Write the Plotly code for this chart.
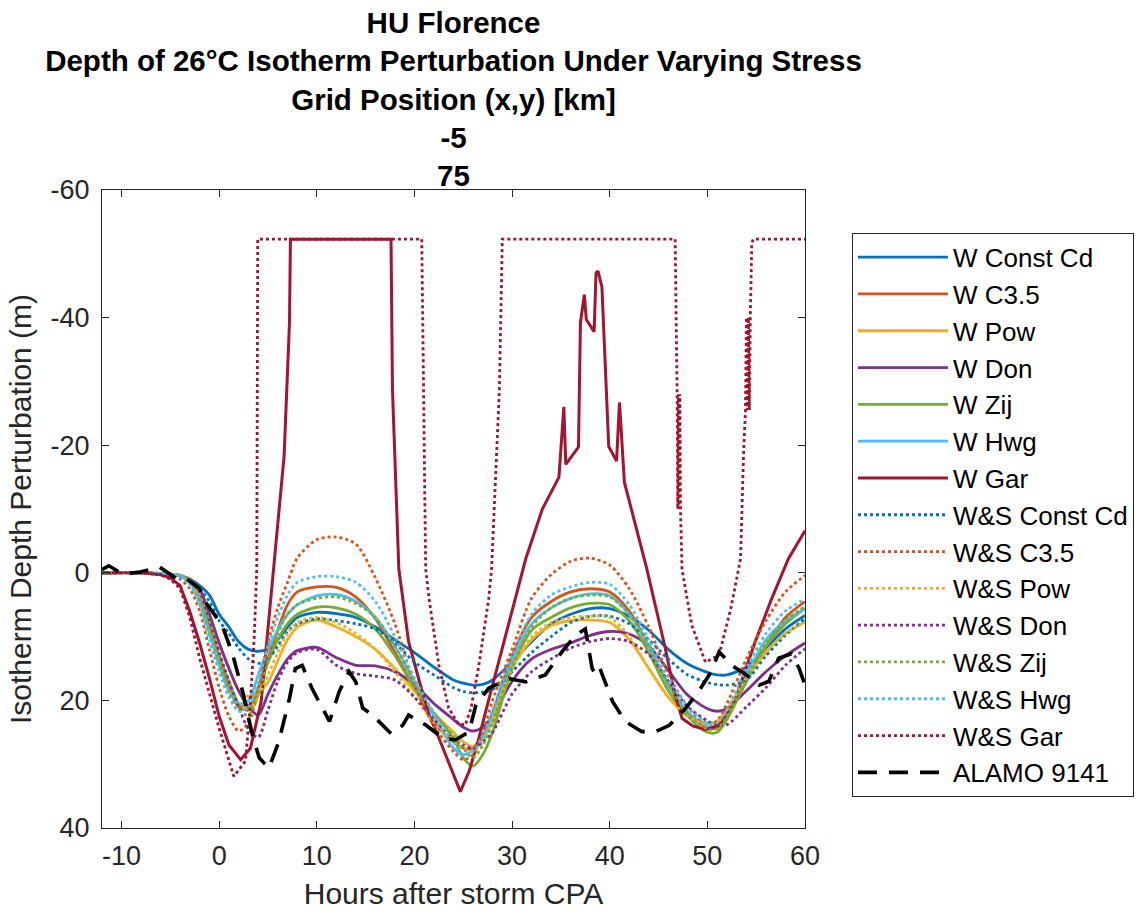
import plotly.graph_objects as go

# ---------------- data ----------------
HOURS = [-12, -8, -5, -4, -3, -2, -1, 0, 1, 2, 3, 4, 5, 6, 7, 8,
         10, 12, 14, 16, 18, 20, 22,
         24, 25, 26, 27, 28,
         30, 32, 34, 36, 38, 40, 42, 44, 46, 48, 50,
         51, 52, 54, 56, 58, 60]

W_CONST_CD = [0, 0, 0.2, 0.5, 1.0, 2.0, 3.5, 6.5, 8.5, 10.8, 12.0, 12.3, 12.0, 10.5, 8.5, 7.0,
              6.2, 6.4, 7.0, 8.5, 10.5, 12.5, 14.8,
              16.8, 17.3, 17.6, 17.5, 16.8,
              14.0, 10.8, 8.0, 6.5, 5.6, 5.6, 6.8, 9.0, 12.0, 14.3, 15.6,
              16.0, 16.0, 14.8, 11.8, 8.8, 6.7]
W_C35 = [0, 0, 0.2, 0.5, 1.5, 4, 8, 13, 18, 21, 21.5, 18, 13.5, 9, 5, 3,
         2.2, 2.3, 3.8, 7.2, 12.5, 18.0, 23.5,
         26.5, 27.5, 27.5, 25.5, 22,
         13.0, 7.0, 4.5, 3.0, 2.5, 3.0, 6.0, 11.5, 17.5, 22.0, 24.3,
         24.3, 22.5, 17.0, 11.5, 7.0, 4.5]
W_POW = [0, 0, 0.2, 0.4, 1.0, 3.0, 6.5, 11, 15, 18.5, 19.4, 18.8, 17.2, 13.8, 10.5, 8.5,
         7.4, 8.5, 10.0, 12.0, 15.0, 18.5, 22.0,
         25.0, 26.5, 27.2, 25.5, 23.5,
         15.0, 10.5, 8.3, 7.5, 7.4, 7.8, 10.5, 15.0, 19.5, 22.5, 23.5,
         23.3, 21.5, 16.5, 12.5, 9.5, 7.7]
W_DON = [0, 0, 0.2, 0.5, 1.0, 2.5, 6.5, 11, 15, 18.5, 21, 22.3, 19, 16, 13.5, 12.2,
         11.7, 13.3, 14.5, 14.6, 15.5, 17.5, 20.5,
         23.0, 24.2, 24.8, 24.2, 22.5,
         17, 13.5, 12, 11, 9.8, 9.2, 9.6, 11.5, 15.3, 19.2, 21.3,
         21.7, 21.3, 18.5, 15.5, 13, 11]
W_ZIJ = [0, 0, 0.2, 0.4, 1.2, 4, 8, 13, 17, 20.5, 21.2, 18, 14, 10.5, 8, 6.5,
         5.4, 5.5, 6.5, 8.8, 13, 18, 22,
         26, 29, 30.3, 28.5, 25,
         15, 9, 7, 5.5, 4.8, 5.0, 7.5, 12.5, 18.5, 22.5, 25,
         25, 23, 17, 11.5, 8, 5.6]
W_HWG = [0, 0, 0.2, 0.5, 1.5, 4.5, 9.5, 14.5, 18.5, 20.5, 20, 16, 12, 9, 6.5, 5,
         3.6, 3.4, 4.5, 7, 11.5, 17, 22.5,
         27.5, 28.5, 27.8, 26, 22.5,
         14.0, 8.0, 5.5, 4.0, 3.3, 3.6, 6.5, 11.5, 17.5, 21.8, 24,
         24, 22, 16, 10.5, 7.5, 5.6]

WS_CONST_CD = [0, 0, 0.2, 0.5, 1.2, 2.5, 4.5, 7.5, 9.5, 11.8, 13.5, 14.2, 13.5, 11.5, 9.2, 8.0,
               7.2, 7.5, 8.0, 8.8, 11.0, 14.0, 16.0,
               18.0, 18.6, 18.8, 18.7, 18.3,
               15.5, 12.5, 10.0, 7.8, 6.8, 6.8, 8.0, 10.5, 13.5, 16.0, 17.2,
               17.5, 17.6, 16.8, 13.0, 9.8, 7.2]
WS_C35 = [0, 0, 0.3, 1.0, 2.5, 6, 12, 18, 22.5, 24.8, 23.5, 18.5, 11, 5.5, 1.5, -2.3,
          -5.2, -5.6, -4.5, 0.8, 8, 17.5, 24.0,
          28.0, 29.3, 28.5, 25.0, 20,
          12.0, 4.0, 0.3, -1.8, -2.3, -1.2, 2.5, 8.5, 16.0, 21.0, 23.8,
          23.2, 20.5, 13.5, 7.5, 3.0, 0.4]
WS_POW = [0, 0, 0.2, 0.4, 1.2, 3.5, 7.5, 12.5, 17, 20.5, 21.5, 19.5, 16, 12.5, 9.5, 7.8,
          7.0, 7.8, 9.5, 12.0, 15.5, 19.5, 23.5,
          26.5, 27.5, 28, 26.5, 23,
          15, 10, 7.8, 7.0, 6.8, 7.0, 10.0, 15.0, 19.5, 22.5, 23.8,
          23.5, 21.5, 16.5, 12.5, 9.5, 7.7]
WS_DON = [0, 0, 0.2, 0.5, 1.2, 3, 7.5, 12.5, 17, 21, 24.5, 25.8, 21.5, 17, 14, 12.5,
          12, 14.5, 15.8, 16.2, 16.8, 19.5, 23,
          26, 27, 27.5, 26.5, 25,
          19, 15.5, 13.5, 11.8, 10.8, 10.3, 10.8, 12.8, 17, 21, 23.2,
          23.8, 23.8, 21, 18, 14.5, 11.9]
WS_ZIJ = [0, 0, 0.2, 0.4, 1.5, 4.5, 9, 14, 18.5, 21.5, 22.3, 19, 14, 9.5, 6.5, 5,
          4, 3.8, 4.8, 7, 11.5, 17, 22,
          25.5, 27.5, 29, 27, 23.5,
          14.5, 8.5, 5.5, 4.0, 3.5, 3.8, 6.5, 11.5, 17.5, 22, 24.5,
          24.5, 22.5, 16.5, 11, 7.5, 5.3]
WS_HWG = [0, 0, 0.2, 0.5, 1.8, 5, 10.5, 15.5, 19.5, 21.7, 21, 17, 11.5, 7, 3.5, 1.5,
          0.6, 0.6, 1.5, 4.5, 10, 16.5, 22,
          26.5, 28.5, 28, 25.5, 21.5,
          13, 6.5, 3.5, 2.2, 1.5, 1.8, 5.0, 10.5, 16.5, 21, 23.5,
          23.5, 21.5, 15, 9.5, 6, 4.1]

W_GAR_HOURS = [-12, -8, -6, -5, -4, -3, -2, -1, 0, 1,
               2.2, 3.2, 4.3, 5.6, 6.65, 7.2, 7.3,
               17.6, 17.75, 18.4, 19.4, 20.5, 21.5, 22.4, 23.2, 24.0, 24.7,
               25.6, 26.5, 27.3, 28.3, 29.3, 30.3, 31.4,
               33.1, 34.8, 35.3, 35.5, 36.8, 37.0, 37.4, 37.6, 38.4, 38.6, 38.8, 39.2, 39.9,
               40.7, 41.0, 41.5, 43.8, 45.7, 46.6, 47.4, 48.5, 49.8, 51.2,
               52.9, 54.9, 56.6, 58.3, 60]
W_GAR = [0, 0, 0.3, 0.8, 2.0, 6.1, 11, 16.5, 22.5, 27,
         29.3, 27.5, 20.2, -0.6, -18.3, -39.2, -52.3,
         -52.3, -28.7, -0.6, 10.8, 17, 22.3, 25.5, 28.5, 31.5, 34.3,
         31.1, 26.5, 21.7, 15.8, 9.8, 4.0, -2.2,
         -10, -15, -26, -17, -19.7, -39.2, -43.6, -39.7, -37.8, -47, -47.3, -44.8, -19.8,
         -17.5, -26.7, -14.2, -0.6, 11.9, 18.6, 22.8, 24.0, 24.6, 23.9,
         19.7, 10.8, 4.0, -2.2, -6.6]

WS_GAR_HOURS = [-12, -8, -6, -5, -4, -3, -2, -1, 0,
                1.5, 2.7, 3.2, 3.6, 3.85, 3.95,
                20.75, 20.9, 21.15, 21.5, 22.5, 23.5, 24.4, 25.2, 25.8, 26.6, 27.6, 27.9, 28.7, 29.0,
                46.7, 46.9, 46.97, 47.04, 47.11, 47.18, 47.25, 47.4,
                48.4, 49.8, 51.2, 52.4, 53.4, 53.7,
                53.9, 54.0, 54.1, 54.2, 54.3, 54.4, 54.55, 54.7, 60]
WS_GAR = [0, 0, 0.3, 1.0, 2.5, 7.0, 13.4, 19.0, 24.4,
          31.9, 29.5, 20.2, 9.8, -0.6, -52.3,
          -52.3, -28.7, -0.6, 4.1, 14.5, 21.2, 23.5, 23.9, 21.2, 14.5, 4.1, -0.6, -28.7, -52.3,
          -52.3, -28.5, -10, -28, -10.5, -28, -10, -0.6,
          8.2, 14.0, 12.9, 5.6, -2.2, -18.3,
          -25.4, -40, -25.5, -40, -25.5, -40, -51.7, -52.3, -52.3]

ALAMO_HOURS = [-12, -11.3, -9.9, -8.2, -6.1, -4.4, -3.4, -2, -1.4, 0.3,
               1.4, 2.4, 3.4, 4.1, 5.1, 6.1, 7.2, 7.8, 8.5, 9.5,
               10.5, 11.3, 12.3, 13.3, 14.0, 14.7, 15.7, 17.6, 18.8, 19.4,
               21.2, 22.9, 24.2, 25.6, 26.3, 27.6, 29.7, 31.4, 33.4, 35.1,
               36.5, 37.5, 38.2, 38.6, 39.0, 39.9, 40.3, 41.6, 43.3, 44.7,
               46.1, 47.8, 49.1, 50.4, 51.2, 52.5, 54.0, 55.3, 56.3, 57.3,
               58.6, 59.4, 60]
ALAMO_9141 = [-0.5, -1.1, 0.2, -0.1, -0.9, 0.9, 0.9, 2.5, 4.6, 8.2,
              12.9, 18.6, 25.4, 29.0, 30.6, 26.5, 19.7, 15.0, 14.5, 18.1,
              21.0, 23.3, 18.6, 15.5, 17.1, 21.2, 22.3, 25.2, 23.9, 22.3,
              23.9, 25.9, 26.2, 24.9, 20.7, 18.1, 16.6, 17.1, 16.0, 12.4,
              9.8, 8.8, 15.0, 16.0, 15.0, 18.6, 20.2, 23.3, 24.9, 24.9,
              23.9, 21.2, 18.6, 15.5, 12.4, 14.5, 16.0, 17.6, 17.0, 13.4,
              12.7, 15.0, 17.6]

X_TICKS = [-10, 0, 10, 20, 30, 40, 50, 60]
X_TICK_TEXT = ["-10", "0", "10", "20", "30", "40", "50", "60"]
Y_TICKS = [-60, -40, -20, 0, 20, 40]
Y_TICK_TEXT = ["-60", "-40", "-20", "0", "20", "40"]

TITLE_LINES = ["HU Florence",
               "Depth of 26\u00b0C Isotherm Perturbation Under Varying Stress",
               "Grid Position (x,y) [km]", "-5", "75"]

COLORS = {"Const Cd": "#0072BD", "C3.5": "#D95319", "Pow": "#EDB120",
          "Don": "#7E2F8E", "Zij": "#77AC30", "Hwg": "#4DBEEE", "Gar": "#A2142F"}

# ---------------- figure ----------------
FONT = "Liberation Sans, Arial, sans-serif"
fig = go.Figure()

w_series = [("Const Cd", W_CONST_CD), ("C3.5", W_C35), ("Pow", W_POW), ("Don", W_DON),
            ("Zij", W_ZIJ), ("Hwg", W_HWG)]
ws_series = [("Const Cd", WS_CONST_CD), ("C3.5", WS_C35), ("Pow", WS_POW), ("Don", WS_DON),
             ("Zij", WS_ZIJ), ("Hwg", WS_HWG)]

for name, vals in w_series:
    fig.add_trace(go.Scatter(x=HOURS, y=vals, mode="lines", name="W " + name,
                             line=dict(color=COLORS[name], width=2.8, shape="spline", smoothing=0.8)))
fig.add_trace(go.Scatter(x=W_GAR_HOURS, y=W_GAR, mode="lines", name="W Gar",
                         line=dict(color=COLORS["Gar"], width=3)))
for name, vals in ws_series:
    fig.add_trace(go.Scatter(x=HOURS, y=vals, mode="lines", name="W&S " + name,
                             line=dict(color=COLORS[name], width=2.8, dash="dot",
                                       shape="spline", smoothing=0.8)))
fig.add_trace(go.Scatter(x=WS_GAR_HOURS, y=WS_GAR, mode="lines", name="W&S Gar",
                         line=dict(color=COLORS["Gar"], width=2.8, dash="dot")))
fig.add_trace(go.Scatter(x=ALAMO_HOURS, y=ALAMO_9141, mode="lines", name="ALAMO 9141",
                         line=dict(color="black", width=3.6, dash="19px,12px")))

axis_common = dict(showline=True, linecolor="#262626", linewidth=1, mirror="ticks",
                   ticks="inside", ticklen=7, tickcolor="#262626", showgrid=False,
                   zeroline=False, tickfont=dict(family=FONT, size=27, color="#262626"))

fig.update_layout(
    width=1146, height=916,
    margin=dict(l=102, r=340, t=190, b=86),
    paper_bgcolor="white", plot_bgcolor="white",
    font=dict(family=FONT, color="#262626"),
    title=dict(text="<br>".join("<b>%s</b>" % t for t in TITLE_LINES),
               font=dict(family=FONT, size=29.5, color="black"),
               x=0.5, xref="paper", xanchor="center",
               y=1 - 33 / 916, yref="container", yanchor="top"),
    xaxis=dict(range=[-12, 60], tickvals=X_TICKS, ticktext=X_TICK_TEXT, ticklabelstandoff=4,
               title=dict(text="Hours after storm CPA", font=dict(family=FONT, size=30, color="#262626"),
                          standoff=12),
               **axis_common),
    yaxis=dict(range=[40, -60], tickvals=Y_TICKS, ticktext=Y_TICK_TEXT, ticklabelstandoff=6,
               title=dict(text="Isotherm Depth Perturbation (m)",
                          font=dict(family=FONT, size=30, color="#262626"), standoff=10),
               **axis_common),
    legend=dict(x=1.0668, y=0.933, xanchor="left", yanchor="top",
                bordercolor="#262626", borderwidth=1, bgcolor="white",
                font=dict(family=FONT, size=26, color="black"),
                itemwidth=90, tracegroupgap=0),
    showlegend=True,
)

fig.write_html("out.html", config={"displayModeBar": False},
               post_script="document.body.style.margin='0px';")
